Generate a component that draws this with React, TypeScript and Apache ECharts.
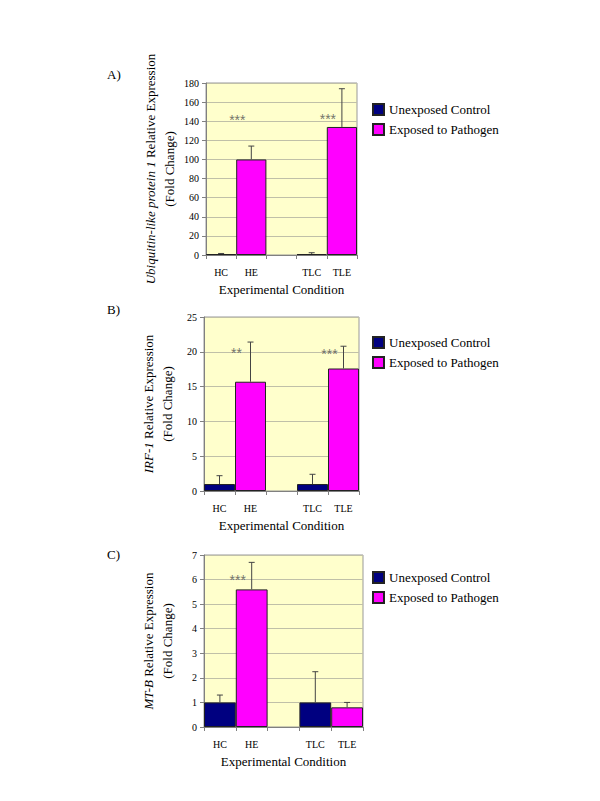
import React, { useEffect, useRef } from 'react';
import * as echarts from 'echarts';

const categories = ['HC', 'HE', '', 'TLC', 'TLE'];
const seriesNames = ['Unexposed Control', 'Exposed to Pathogen'];
const xAxisTitle = 'Experimental Condition';
const panelLabels = ['A)', 'B)', 'C)'];

// Panel A: Ubiquitin-like protein 1
const aControl = [1, null, null, 1, null];
const aExposed = [null, 100, null, null, 134];
const aErrorTop = [1.6, 114, null, 2.4, 174];
const aStars: [string, number, string][] = [['HE', 145, '***'], ['TLE', 147, '***']];
const aGene = 'Ubiquitin-like protein 1';
const aMax = 180;
const aInterval = 20;

// Panel B: IRF-1
const bControl = [1, null, null, 1, null];
const bExposed = [null, 15.7, null, null, 17.6];
const bErrorTop = [2.2, 21.4, null, 2.4, 20.8];
const bStars: [string, number, string][] = [['HE', 20.4, '**'], ['TLE', 20.3, '***']];
const bGene = 'IRF-1';
const bMax = 25;
const bInterval = 5;

// Panel C: MT-B
const cControl = [1, null, null, 1, null];
const cExposed = [null, 5.6, null, null, 0.8];
const cErrorTop = [1.3, 6.7, null, 2.25, 1.0];
const cStars: [string, number, string][] = [['HE', 6.15, '***']];
const cGene = 'MT-B';
const cMax = 7;
const cInterval = 1;

const FONT = 'Liberation Serif';
const NAVY = '#000080';
const MAGENTA = '#FF00FF';

const panels = [
  { control: aControl, exposed: aExposed, err: aErrorTop, stars: aStars, gene: aGene, max: aMax, interval: aInterval,
    grid: { left: 206, top: 83, width: 151, height: 172 }, legendTop: 98, labelY: 75 },
  { control: bControl, exposed: bExposed, err: bErrorTop, stars: bStars, gene: bGene, max: bMax, interval: bInterval,
    grid: { left: 204, top: 317, width: 155, height: 174 }, legendTop: 331, labelY: 310 },
  { control: cControl, exposed: cExposed, err: cErrorTop, stars: cStars, gene: cGene, max: cMax, interval: cInterval,
    grid: { left: 204, top: 555, width: 159, height: 172 }, legendTop: 566, labelY: 555 },
];

function buildOption() {
  const grid: any[] = [];
  const xAxis: any[] = [];
  const yAxis: any[] = [];
  const series: any[] = [];
  const legend: any[] = [];
  const graphic: any[] = [];

  panels.forEach((p, i) => {
    grid.push({
      ...p.grid,
      show: true,
      backgroundColor: '#FFFFCC',
      borderColor: '#999999',
      borderWidth: 1,
    });
    xAxis.push({
      type: 'category',
      gridIndex: i,
      data: categories,
      name: xAxisTitle,
      nameLocation: 'middle',
      nameGap: 28,
      nameTextStyle: { fontFamily: FONT, fontSize: 13, color: '#000' },
      axisLine: { show: true, lineStyle: { color: '#808080' } },
      axisTick: { show: true, length: 4, lineStyle: { color: '#808080' } },
      axisLabel: { fontFamily: FONT, fontSize: 10, color: '#000', margin: 12, interval: 0 },
    });
    yAxis.push({
      type: 'value',
      gridIndex: i,
      min: 0,
      max: p.max,
      interval: p.interval,
      name: `{i|${p.gene}} Relative Expression\n(Fold Change)`,
      nameLocation: 'middle',
      nameRotate: 90,
      nameGap: 27,
      nameTextStyle: {
        fontFamily: FONT, fontSize: 13, color: '#000', lineHeight: 19,
        rich: { i: { fontFamily: FONT, fontSize: 13, fontStyle: 'italic', color: '#000', lineHeight: 19 } },
      },
      axisLine: { show: true, lineStyle: { color: '#808080' } },
      axisTick: { show: true, length: 4, lineStyle: { color: '#808080' } },
      axisLabel: { fontFamily: FONT, fontSize: 10, color: '#000', margin: 7 },
      splitLine: { show: true, lineStyle: { color: '#C0C0A8', width: 1 } },
    });
    series.push({
      name: seriesNames[0],
      type: 'bar',
      xAxisIndex: i,
      yAxisIndex: i,
      stack: 'p' + i,
      barWidth: '100%',
      data: p.control,
      itemStyle: { color: NAVY, borderColor: '#222', borderWidth: 1 },
    });
    series.push({
      name: seriesNames[1],
      type: 'bar',
      xAxisIndex: i,
      yAxisIndex: i,
      stack: 'p' + i,
      barWidth: '100%',
      data: p.exposed,
      itemStyle: { color: MAGENTA, borderColor: '#222', borderWidth: 1 },
    });
    const errData: any[] = [];
    categories.forEach((c, k) => {
      const v = p.control[k] ?? p.exposed[k];
      if (p.err[k] != null && v != null) errData.push([k, v, p.err[k]]);
    });
    series.push({
      type: 'custom',
      xAxisIndex: i,
      yAxisIndex: i,
      z: 5,
      silent: true,
      data: errData,
      encode: { x: 0, y: [1, 2] },
      renderItem: (params: any, api: any) => {
        const x = api.value(0);
        const base = api.coord([x, api.value(1)]);
        const top = api.coord([x, api.value(2)]);
        const style = { stroke: '#444', lineWidth: 1 };
        return {
          type: 'group',
          children: [
            { type: 'line', shape: { x1: base[0], y1: base[1], x2: top[0], y2: top[1] }, style },
            { type: 'line', shape: { x1: top[0] - 3, y1: top[1], x2: top[0] + 3, y2: top[1] }, style },
          ],
        };
      },
    });
    series.push({
      type: 'scatter',
      xAxisIndex: i,
      yAxisIndex: i,
      symbolSize: 1,
      z: 6,
      silent: true,
      itemStyle: { color: 'rgba(0,0,0,0)' },
      data: p.stars.map((s) => [s[0], s[1], s[2]]),
      label: {
        show: true,
        position: 'inside',
        offset: [-14, 4],
        formatter: (d: any) => d.value[2],
        fontFamily: 'Liberation Sans',
        fontSize: 14,
        color: '#505050',
      },
    });
    legend.push({
      data: seriesNames,
      orient: 'vertical',
      left: 367,
      top: p.legendTop,
      itemGap: 7,
      itemWidth: 11,
      itemHeight: 11,
      icon: 'rect',
      selectedMode: false,
      textStyle: { fontFamily: FONT, fontSize: 13, color: '#000' },
    });
    graphic.push({
      type: 'text',
      left: 107,
      top: p.labelY - 7,
      style: { text: panelLabels[i], fontFamily: FONT, fontSize: 13, fill: '#000' },
    });
  });

  return {
    animation: false,
    backgroundColor: '#ffffff',
    grid,
    xAxis,
    yAxis,
    series,
    legend,
    graphic,
  };
}

export default function App() {
  const ref = useRef<HTMLDivElement>(null);
  useEffect(() => {
    if (!ref.current) return;
    const chart = echarts.init(ref.current, null, { renderer: 'svg' });
    chart.setOption(buildOption() as any);
    return () => chart.dispose();
  }, []);
  return (
    <div
      ref={ref}
      style={{ position: 'absolute', left: 0, top: 0, width: 600, height: 801 }}
    />
  );
}
